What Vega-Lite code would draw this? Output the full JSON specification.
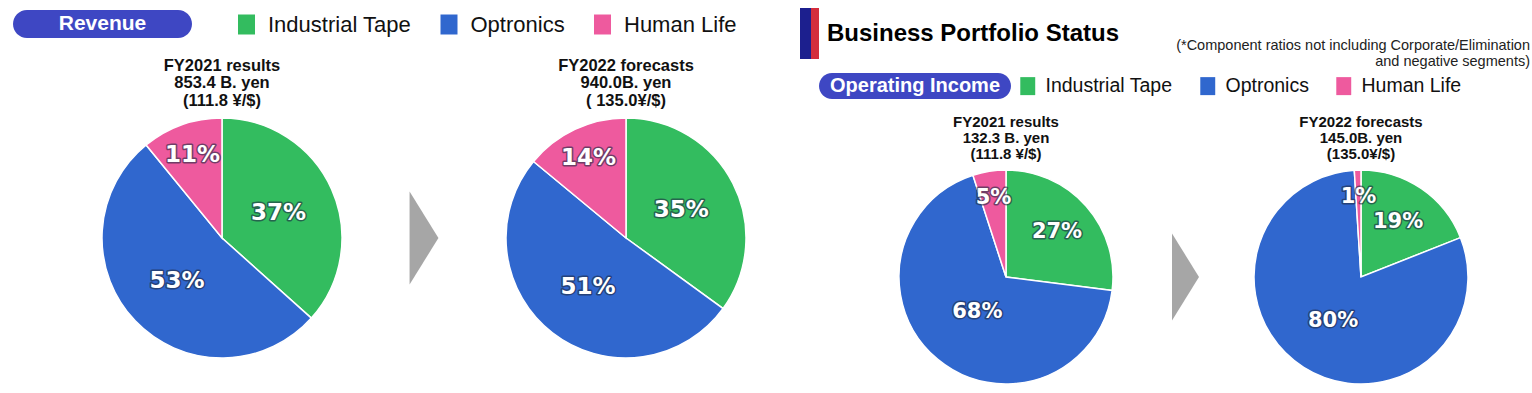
{
  "$schema": "https://vega.github.io/schema/vega-lite/v6.json",
  "background": "white",
  "padding": {"left": 13, "top": 8, "right": 0, "bottom": 1},
  "config": {"view": {"stroke": null}, "font": "Liberation Sans"},
  "datasets": {
    "pies": [
      {"chart": "rev21", "segment": "Industrial Tape", "idx": 1, "share": 37, "label": "37%"},
      {"chart": "rev21", "segment": "Optronics", "idx": 2, "share": 53, "label": "53%"},
      {"chart": "rev21", "segment": "Human Life", "idx": 3, "share": 11, "label": "11%"},
      {"chart": "rev22", "segment": "Industrial Tape", "idx": 1, "share": 35, "label": "35%"},
      {"chart": "rev22", "segment": "Optronics", "idx": 2, "share": 51, "label": "51%"},
      {"chart": "rev22", "segment": "Human Life", "idx": 3, "share": 14, "label": "14%"},
      {"chart": "oi21", "segment": "Industrial Tape", "idx": 1, "share": 27, "label": "27%"},
      {"chart": "oi21", "segment": "Optronics", "idx": 2, "share": 68, "label": "68%"},
      {"chart": "oi21", "segment": "Human Life", "idx": 3, "share": 5, "label": "5%"},
      {"chart": "oi22", "segment": "Industrial Tape", "idx": 1, "share": 19, "label": "19%"},
      {"chart": "oi22", "segment": "Optronics", "idx": 2, "share": 80, "label": "80%"},
      {"chart": "oi22", "segment": "Human Life", "idx": 3, "share": 1, "label": "1%"}
    ],
    "segments": [{"segment": "Industrial Tape"}, {"segment": "Optronics"}, {"segment": "Human Life"}],
    "one": [{}]
  },
  "bounds": "full",
  "spacing": 46,
  "resolve": {"scale": {"color": "independent", "theta": "independent"}},
  "hconcat": [
    {
      "bounds": "flush", "spacing": 0,
      "resolve": {"scale": {"color": "independent", "theta": "independent"}},
      "vconcat": [
        {"width": 1, "height": 2, "data": {"name": "one"}, "mark": {"type": "rect", "opacity": 0}, "encoding": {}},
        {
          "width": 179, "height": 28,
          "layer": [
            {"data": {"name": "segments"}, "mark": {"type": "point", "filled": true, "opacity": 0},
             "encoding": {"color": {"field": "segment", "type": "nominal",
               "scale": {"domain": ["Industrial Tape", "Optronics", "Human Life"], "range": ["#33BC5F", "#3067CE", "#EE5A9E"]},
               "legend": {"orient": "right", "direction": "horizontal", "title": null, "offset": 40, "padding": 3.5,
                 "symbolType": "M-0.85,-1H0.85V1H-0.85Z", "symbolSize": 400, "symbolStrokeWidth": 0, "symbolOpacity": 1,
                 "labelFont": "Liberation Sans", "labelFontSize": 22, "labelColor": "#111", "labelOffset": 10.5,
                 "columnPadding": 26.5, "labelLimit": 400}}}},
            {"data": {"name": "one"}, "mark": {"type": "rect", "fill": "#3E47C3", "cornerRadius": 14}, "encoding": {}},
            {"data": {"name": "one"}, "mark": {"type": "text", "text": "Revenue", "fill": "white", "fontSize": 21, "fontWeight": "bold", "font": "Liberation Sans", "baseline": "middle", "align": "center"}, "encoding": {}}
          ]
        },
        {"width": 1, "height": 79.5, "data": {"name": "one"}, "mark": {"type": "rect", "opacity": 0}, "encoding": {}},
        {
          "bounds": "flush", "spacing": 0,
          "resolve": {"scale": {"color": "independent", "theta": "independent"}},
          "hconcat": [
            {"width": 89, "height": 1, "data": {"name": "one"}, "mark": {"type": "rect", "opacity": 0}, "encoding": {}},
            {
              "width": 240, "height": 240,
              "title": {"text": ["FY2021 results", "853.4 B. yen", "(111.8 ¥/$)"], "fontSize": 16.5, "font": "Liberation Sans", "fontWeight": "bold", "lineHeight": 17.5, "offset": 6, "anchor": "middle", "color": "#111"},
              "data": {"name": "pies"},
              "transform": [{"filter": "datum.chart === 'rev21'"}],
              "encoding": {"theta": {"field": "share", "type": "quantitative", "stack": true}, "order": {"field": "idx", "type": "quantitative"}},
              "layer": [
                {"mark": {"type": "arc", "radius": 120, "stroke": "white", "strokeWidth": 1.5},
                 "encoding": {"color": {"field": "segment", "type": "nominal", "scale": {"domain": ["Industrial Tape", "Optronics", "Human Life"], "range": ["#33BC5F", "#3067CE", "#EE5A9E"]}, "legend": null}}},
                {"mark": {"type": "text", "radius": {"expr": "datum.share < 20 ? 88 : 62"}, "font": "DejaVu Sans", "fontWeight": "bold", "fontSize": 23, "fill": "#1e2a44", "stroke": "#1e2a44", "strokeWidth": 3, "strokeJoin": "round", "opacity": 0.6},
                 "encoding": {"text": {"field": "label"}, "detail": {"field": "segment"}}},
                {"mark": {"type": "text", "radius": {"expr": "datum.share < 20 ? 88 : 62"}, "font": "DejaVu Sans", "fontWeight": "bold", "fontSize": 23, "fill": "white"},
                 "encoding": {"text": {"field": "label"}, "detail": {"field": "segment"}}}
              ]
            },
            {"width": 164, "height": 240, "data": {"name": "one"}, "mark": {"type": "point", "shape": "M-0.31,-1L0.31,0L-0.31,1Z", "size": 8649, "filled": true, "fill": "#A6A6A6", "opacity": 1, "strokeWidth": 0}, "encoding": {}},
            {
              "width": 240, "height": 240,
              "title": {"text": ["FY2022 forecasts", "940.0B. yen", "( 135.0¥/$)"], "fontSize": 16.5, "font": "Liberation Sans", "fontWeight": "bold", "lineHeight": 17.5, "offset": 6, "anchor": "middle", "color": "#111"},
              "data": {"name": "pies"},
              "transform": [{"filter": "datum.chart === 'rev22'"}],
              "encoding": {"theta": {"field": "share", "type": "quantitative", "stack": true}, "order": {"field": "idx", "type": "quantitative"}},
              "layer": [
                {"mark": {"type": "arc", "radius": 120, "stroke": "white", "strokeWidth": 1.5},
                 "encoding": {"color": {"field": "segment", "type": "nominal", "scale": {"domain": ["Industrial Tape", "Optronics", "Human Life"], "range": ["#33BC5F", "#3067CE", "#EE5A9E"]}, "legend": null}}},
                {"mark": {"type": "text", "radius": {"expr": "datum.share < 20 ? 88 : 62"}, "font": "DejaVu Sans", "fontWeight": "bold", "fontSize": 23, "fill": "#1e2a44", "stroke": "#1e2a44", "strokeWidth": 3, "strokeJoin": "round", "opacity": 0.6},
                 "encoding": {"text": {"field": "label"}, "detail": {"field": "segment"}}},
                {"mark": {"type": "text", "radius": {"expr": "datum.share < 20 ? 88 : 62"}, "font": "DejaVu Sans", "fontWeight": "bold", "fontSize": 23, "fill": "white"},
                 "encoding": {"text": {"field": "label"}, "detail": {"field": "segment"}}}
              ]
            }
          ]
        }
      ]
    },
    {
      "bounds": "full", "spacing": 0,
      "resolve": {"scale": {"color": "independent", "theta": "independent"}},
      "vconcat": [
        {
          "bounds": "flush", "spacing": 0,
          "resolve": {"scale": {"color": "independent", "theta": "independent"}},
          "hconcat": [
            {"width": 5, "height": 1, "data": {"name": "one"}, "mark": {"type": "rect", "opacity": 0}, "encoding": {}},
            {"width": 11, "height": 51, "data": {"name": "one"}, "mark": {"type": "rect", "fill": "#1C1F8E"}, "encoding": {}},
            {"width": 8, "height": 51, "data": {"name": "one"}, "mark": {"type": "rect", "fill": "#D42D3C"}, "encoding": {}},
            {"width": 308, "height": 51, "data": {"name": "one"}, "mark": {"type": "text", "text": "Business Portfolio Status", "fontSize": 24, "fontWeight": "bold", "font": "Liberation Sans", "fill": "#000", "baseline": "middle", "align": "center"}, "encoding": {}},
            {
              "bounds": "flush", "spacing": 0,
              "vconcat": [
                {"width": 1, "height": 11, "data": {"name": "one"}, "mark": {"type": "rect", "opacity": 0}, "encoding": {}},
                {"width": 403, "height": 54, "data": {"name": "one"}, "mark": {"type": "text", "text": ["(*Component ratios not including Corporate/Elimination", "and negative segments)"], "fontSize": 14.5, "font": "Liberation Sans", "align": "right", "baseline": "middle", "lineHeight": 16, "fill": "#222"}, "encoding": {"x": {"value": "width"}}}
              ]
            }
          ]
        },
        {
          "bounds": "flush", "spacing": 0,
          "resolve": {"scale": {"color": "independent", "theta": "independent"}},
          "hconcat": [
            {"width": 24, "height": 1, "data": {"name": "one"}, "mark": {"type": "rect", "opacity": 0}, "encoding": {}},
            {
              "width": 192, "height": 26,
              "layer": [
                {"data": {"name": "segments"}, "mark": {"type": "point", "filled": true, "opacity": 0},
                 "encoding": {"color": {"field": "segment", "type": "nominal",
                   "scale": {"domain": ["Industrial Tape", "Optronics", "Human Life"], "range": ["#33BC5F", "#3067CE", "#EE5A9E"]},
                   "legend": {"orient": "right", "direction": "horizontal", "title": null, "offset": 4.2, "padding": 3,
                     "symbolType": "M-0.83,-1H0.83V1H-0.83Z", "symbolSize": 324, "symbolStrokeWidth": 0, "symbolOpacity": 1,
                     "labelFont": "Liberation Sans", "labelFontSize": 19.5, "labelColor": "#111", "labelOffset": 8,
                     "columnPadding": 25, "labelLimit": 400}}}},
                {"data": {"name": "one"}, "mark": {"type": "rect", "fill": "#3E47C3", "cornerRadius": 13}, "encoding": {}},
                {"data": {"name": "one"}, "mark": {"type": "text", "text": "Operating Income", "fill": "white", "fontSize": 20, "fontWeight": "bold", "font": "Liberation Sans", "baseline": "middle", "align": "center"}, "encoding": {}}
              ]
            }
          ]
        },
        {"width": 1, "height": 16, "data": {"name": "one"}, "mark": {"type": "rect", "opacity": 0}, "encoding": {}},
        {
          "bounds": "flush", "spacing": 0,
          "resolve": {"scale": {"color": "independent", "theta": "independent"}},
          "hconcat": [
            {"width": 103.5, "height": 1, "data": {"name": "one"}, "mark": {"type": "rect", "opacity": 0}, "encoding": {}},
            {
              "width": 214, "height": 214,
              "title": {"text": ["FY2021 results", "132.3 B. yen", "(111.8 ¥/$)"], "fontSize": 15, "font": "Liberation Sans", "fontWeight": "bold", "lineHeight": 16, "offset": 5, "anchor": "middle", "color": "#111"},
              "data": {"name": "pies"},
              "transform": [{"filter": "datum.chart === 'oi21'"}],
              "encoding": {"theta": {"field": "share", "type": "quantitative", "stack": true}, "order": {"field": "idx", "type": "quantitative"}},
              "layer": [
                {"mark": {"type": "arc", "radius": 107, "stroke": "white", "strokeWidth": 1.5},
                 "encoding": {"color": {"field": "segment", "type": "nominal", "scale": {"domain": ["Industrial Tape", "Optronics", "Human Life"], "range": ["#33BC5F", "#3067CE", "#EE5A9E"]}, "legend": null}}},
                {"mark": {"type": "text", "radius": {"expr": "datum.share < 10 ? 80 : datum.share < 50 ? 68 : 45"}, "font": "DejaVu Sans", "fontWeight": "bold", "fontSize": 21, "fill": "#1e2a44", "stroke": "#1e2a44", "strokeWidth": 3, "strokeJoin": "round", "opacity": 0.6},
                 "encoding": {"text": {"field": "label"}, "detail": {"field": "segment"}}},
                {"mark": {"type": "text", "radius": {"expr": "datum.share < 10 ? 80 : datum.share < 50 ? 68 : 45"}, "font": "DejaVu Sans", "fontWeight": "bold", "fontSize": 21, "fill": "white"},
                 "encoding": {"text": {"field": "label"}, "detail": {"field": "segment"}}}
              ]
            },
            {"width": 59, "height": 1, "data": {"name": "one"}, "mark": {"type": "rect", "opacity": 0}, "encoding": {}},
            {"width": 27, "height": 214, "data": {"name": "one"}, "mark": {"type": "point", "shape": "M-0.31,-1L0.31,0L-0.31,1Z", "size": 7569, "filled": true, "fill": "#A6A6A6", "opacity": 1, "strokeWidth": 0}, "encoding": {}},
            {"width": 55, "height": 1, "data": {"name": "one"}, "mark": {"type": "rect", "opacity": 0}, "encoding": {}},
            {
              "width": 214, "height": 214,
              "title": {"text": ["FY2022 forecasts", "145.0B. yen", "(135.0¥/$)"], "fontSize": 15, "font": "Liberation Sans", "fontWeight": "bold", "lineHeight": 16, "offset": 5, "anchor": "middle", "color": "#111"},
              "data": {"name": "pies"},
              "transform": [{"filter": "datum.chart === 'oi22'"}],
              "encoding": {"theta": {"field": "share", "type": "quantitative", "stack": true}, "order": {"field": "idx", "type": "quantitative"}},
              "layer": [
                {"mark": {"type": "arc", "radius": 107, "stroke": "white", "strokeWidth": 1.5},
                 "encoding": {"color": {"field": "segment", "type": "nominal", "scale": {"domain": ["Industrial Tape", "Optronics", "Human Life"], "range": ["#33BC5F", "#3067CE", "#EE5A9E"]}, "legend": null}}},
                {"mark": {"type": "text", "radius": {"expr": "datum.share < 10 ? 80 : datum.share < 50 ? 66 : 52"}, "font": "DejaVu Sans", "fontWeight": "bold", "fontSize": 21, "fill": "#1e2a44", "stroke": "#1e2a44", "strokeWidth": 3, "strokeJoin": "round", "opacity": 0.6},
                 "encoding": {"text": {"field": "label"}, "detail": {"field": "segment"}}},
                {"mark": {"type": "text", "radius": {"expr": "datum.share < 10 ? 80 : datum.share < 50 ? 66 : 52"}, "font": "DejaVu Sans", "fontWeight": "bold", "fontSize": 21, "fill": "white"},
                 "encoding": {"text": {"field": "label"}, "detail": {"field": "segment"}}}
              ]
            }
          ]
        },
        {"width": 1, "height": 6, "data": {"name": "one"}, "mark": {"type": "rect", "opacity": 0}, "encoding": {}},
        {"width": 740, "height": 1.5, "data": {"name": "one"}, "mark": {"type": "rect", "fill": "#C4C4C4"}, "encoding": {}}
      ]
    }
  ]
}
